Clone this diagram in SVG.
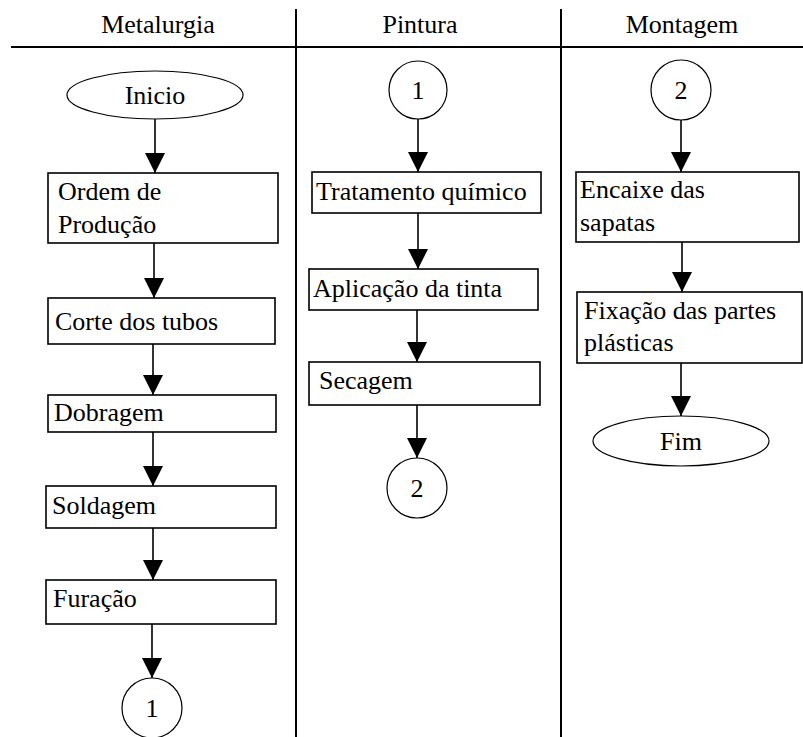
<svg xmlns="http://www.w3.org/2000/svg" width="803" height="737" viewBox="0 0 803 737">
  <style>
    text { font-family: "Liberation Serif", "Times New Roman", Times, Tinos, "Nimbus Roman", "Nimbus Roman No9 L", FreeSerif, "Noto Serif", "DejaVu Serif", serif; font-size: 26px; fill: #000; }
    .c { text-anchor: middle; }
    .box { fill: #fff; stroke: #000; stroke-width: 1.6; }
    .term { fill: #fff; stroke: #000; stroke-width: 1.2; }
    .lane { stroke: #000; stroke-width: 2; fill: none; }
    .flow { stroke: #000; stroke-width: 1.6; fill: none; marker-end: url(#arrow); }
  </style>
  <defs>
    <marker id="arrow" markerUnits="userSpaceOnUse" markerWidth="20" markerHeight="20" viewBox="0 0 20 20" refX="20" refY="10" orient="auto">
      <path d="M0,0 L20,10 L0,20 Z" fill="#000"/>
    </marker>
  </defs>

  <!-- swimlane frame -->
  <g id="lanes">
    <line class="lane" x1="11" y1="47" x2="803" y2="47"/>
    <line class="lane" x1="296" y1="9" x2="296" y2="737"/>
    <line class="lane" x1="561" y1="9" x2="561" y2="737"/>
    <text class="c" x="158" y="33">Metalurgia</text>
    <text class="c" x="420" y="33">Pintura</text>
    <text class="c" x="682" y="33">Montagem</text>
  </g>

  <!-- connectors -->
  <g id="connectors">
    <line class="flow" x1="155" y1="119" x2="155" y2="173"/>
    <line class="flow" x1="154" y1="243" x2="154" y2="298"/>
    <line class="flow" x1="153" y1="344" x2="153" y2="395"/>
    <line class="flow" x1="153" y1="432" x2="153" y2="486"/>
    <line class="flow" x1="153" y1="528" x2="153" y2="580"/>
    <line class="flow" x1="152" y1="624" x2="152" y2="678"/>

    <line class="flow" x1="418" y1="119" x2="418" y2="172"/>
    <line class="flow" x1="418" y1="213" x2="418" y2="269"/>
    <line class="flow" x1="417" y1="310" x2="417" y2="362"/>
    <line class="flow" x1="417" y1="405" x2="417" y2="458"/>

    <line class="flow" x1="681" y1="119" x2="681" y2="172"/>
    <line class="flow" x1="682" y1="242" x2="682" y2="292"/>
    <line class="flow" x1="681" y1="363" x2="681" y2="416"/>
  </g>

  <!-- Metalurgia -->
  <g id="inicio">
    <ellipse class="term" cx="155" cy="95" rx="88" ry="24"/>
    <text class="c" x="155" y="104">Inicio</text>
  </g>
  <g id="ordem-producao">
    <rect class="box" x="48" y="173" width="230" height="70"/>
    <text x="58" y="200">Ordem de</text>
    <text x="58" y="233">Produção</text>
  </g>
  <g id="corte-tubos">
    <rect class="box" x="48" y="298" width="227" height="46"/>
    <text x="55" y="330">Corte dos tubos</text>
  </g>
  <g id="dobragem">
    <rect class="box" x="48" y="395" width="228" height="37"/>
    <text x="54" y="421">Dobragem</text>
  </g>
  <g id="soldagem">
    <rect class="box" x="46" y="486" width="230" height="42"/>
    <text x="52" y="514">Soldagem</text>
  </g>
  <g id="furacao">
    <rect class="box" x="46" y="580" width="230" height="44"/>
    <text x="53" y="607">Furação</text>
  </g>
  <g id="conector-1-saida">
    <circle class="term" cx="152" cy="708" r="30"/>
    <text class="c" x="152" y="717">1</text>
  </g>

  <!-- Pintura -->
  <g id="conector-1-entrada">
    <circle class="term" cx="418" cy="90" r="29"/>
    <text class="c" x="418" y="99">1</text>
  </g>
  <g id="tratamento-quimico">
    <rect class="box" x="312" y="172" width="229" height="41"/>
    <text x="316" y="200">Tratamento químico</text>
  </g>
  <g id="aplicacao-tinta">
    <rect class="box" x="309" y="269" width="229" height="41"/>
    <text x="313" y="297">Aplicação da tinta</text>
  </g>
  <g id="secagem">
    <rect class="box" x="309" y="362" width="231" height="43"/>
    <text x="319" y="389">Secagem</text>
  </g>
  <g id="conector-2-saida">
    <circle class="term" cx="417" cy="488" r="30"/>
    <text class="c" x="417" y="497">2</text>
  </g>

  <!-- Montagem -->
  <g id="conector-2-entrada">
    <circle class="term" cx="681" cy="90" r="30"/>
    <text class="c" x="681" y="99">2</text>
  </g>
  <g id="encaixe-sapatas">
    <rect class="box" x="576" y="172" width="223" height="70"/>
    <text x="580" y="198">Encaixe das</text>
    <text x="580" y="231">sapatas</text>
  </g>
  <g id="fixacao-partes">
    <rect class="box" x="577" y="292" width="225" height="71"/>
    <text x="584" y="319">Fixação das partes</text>
    <text x="584" y="351">plásticas</text>
  </g>
  <g id="fim">
    <ellipse class="term" cx="681" cy="441" rx="88" ry="25"/>
    <text class="c" x="681" y="450">Fim</text>
  </g>
</svg>
